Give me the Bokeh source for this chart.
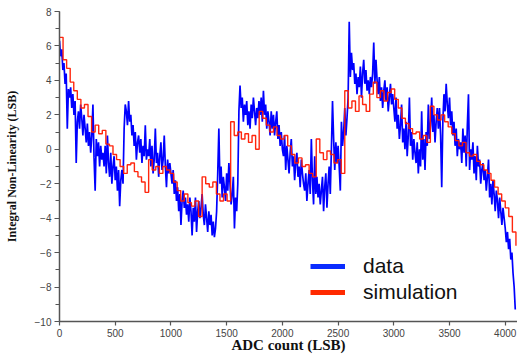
from bokeh.plotting import figure
from bokeh.models import SingleIntervalTicker, Legend, LegendItem
from bokeh.embed import file_html
from bokeh.resources import INLINE

data_inl = [
    6.3, 5.4, 5.8, 4.6, 5.0, 3.8, 4.4, 1.2, 3.5, 3.0, 3.6, 2.4, 3.2, 2.0, 2.8, -0.8, 1.6, 2.2, 1.2, 2.6,
    1.8, 0.8, 2.0, 1.2, 0.4, 1.5, 0.2, 1.0, -0.2, 0.8, 2.6, -0.5, -2.4, 0.6, -0.4, 0.4, -1.0, 0.2, -0.6, -0.2,
    -1.0, 0.2, -1.4, 0.8, -0.8, -1.6, -0.2, -2.0, -1.0, -0.4, -1.8, -1.0, -2.4, -1.2, -3.3, -1.8, -1.2, -2.0, 1.2, 2.6,
    2.2, 1.4, 2.8, 1.6, 2.0, 0.8, 1.4, 0.2, 1.0, -0.6, 0.4, 0.8, -0.2, 0.6, -0.8, 0.2, -0.4, 1.4, -0.6, 0.0,
    -0.4, 0.6, -1.0, 0.2, -1.4, -0.6, 1.2, -0.8, -0.2, -1.6, -0.4, 0.4, -1.2, -0.6, 0.8, -1.0, -2.2, -0.6, -1.4, -0.8,
    -1.4, -2.0, -1.2, -2.6, -1.8, -3.0, -2.2, -3.6, -2.6, -4.4, -3.0, -2.4, -3.4, -2.8, -3.8, -3.2, -4.2, -2.8, -3.6, -5.0,
    -3.4, -4.2, -2.8, -4.8, -3.6, -3.0, -4.0, -3.4, -2.6, -3.8, -4.4, -3.2, -4.0, -4.8, -3.6, -4.4, -3.8, -5.0, -4.2, -5.1,
    -4.6, -3.6, -1.4, 1.2, -2.0, -1.0, -2.8, -1.6, -2.2, -3.0, -1.4, -2.4, -0.8, -2.0, -3.2, -2.6, -1.6, -4.6, -2.8, -3.6,
    -2.0, 2.2, 3.7, 2.4, 3.0, 1.6, 2.6, 2.0, 2.8, 1.4, 2.2, 1.2, 2.6, 1.8, 3.0, 2.2, 1.4, 2.4, 1.8, 2.8,
    2.0, 3.0, 1.6, 3.4, 2.0, 2.6, 1.2, 2.2, 1.6, 0.8, 2.2, 1.2, 2.0, 0.8, 1.6, 2.2, 0.6, 1.4, 0.2, 1.0,
    0.0, -0.4, 0.8, -1.2, 0.2, -0.6, -1.4, -0.2, 0.6, -1.0, -0.4, -1.8, -0.8, -0.2, -1.6, -1.0, -2.2, -0.6, -1.4, -2.0,
    -2.4, -1.4, -3.0, -2.0, -1.2, -2.6, 0.6, -1.8, -3.2, -0.4, -2.6, -1.6, -2.8, -2.0, -3.2, -2.4, -1.6, -3.6, -2.2, -1.4,
    -3.4, -2.0, -1.0, -2.6, 0.0, 2.8, 0.6, -1.2, 0.4, -0.8, 0.2, -1.0, -2.4, 1.6, 0.2, 1.0, 2.4, 0.8, 1.8, 3.0,
    7.4, 4.2, 5.6, 4.6, 5.0, 3.8, 4.4, 3.2, 4.2, 3.6, 4.8, 3.0, 4.4, 5.2, 3.8, 4.6, 3.4, 4.0, 3.2, 4.2,
    3.6, 4.4, 6.2, 3.8, 5.2, 4.0, 3.2, 4.2, 2.8, 3.6, 2.4, 3.4, 4.0, 2.8, 3.6, 2.2, 3.0, 3.8, 2.6, 3.2,
    2.4, 1.6, 3.0, 1.2, 2.0, 0.6, 1.4, 2.6, 0.4, 1.2, 0.0, 1.6, -0.4, 0.8, 3.0, 0.2, 1.0, -0.6, 0.6, -0.2,
    -0.8, 0.4, -1.4, 0.0, -1.0, 2.2, -0.6, 0.6, -1.2, 1.0, 0.2, 2.6, 0.6, 1.4, 3.0, 1.0, 2.0, 0.4, 1.6, 2.4,
    1.2, 2.4, 0.8, -2.2, 1.6, 3.2, 2.2, 3.8, 2.6, 1.8, 3.0, 1.4, 2.2, 0.8, 1.6, 0.2, 1.2, -0.4, 0.6, 0.0,
    0.4, -0.8, 1.2, -0.2, 0.8, -1.0, 1.4, 3.2, -1.2, 0.0, -0.6, 0.4, -1.4, -0.4, -1.8, 0.2, -1.0, -0.6, -2.0, -1.2,
    -0.8, -1.8, -1.2, -2.4, -1.6, -0.6, -2.8, -2.0, -3.2, -1.8, -2.6, -3.6, -2.4, -3.0, -4.0, -2.8, -3.6, -4.4, -3.4, -4.0,
    -4.6, -5.4, -4.8, -5.8, -5.2, -6.4, -6.0, -7.2, -8.0, -9.3,
]
data_step = 10
data_code = [i * data_step for i in range(len(data_inl))]

# Simulated INL (red), a step every 32 ADC codes
sim_inl = [
    6.5, 5.2, 4.7, 3.9, 3.4, 2.9, 2.4, 2.6, 1.9, 1.0, 1.4, 0.9, 1.1, 0.3, 0.2, -0.3,
    -0.6, -1.0, -1.4, -0.9, -0.8, -1.3, -1.6, -1.9, -2.5, -0.6, -1.2, -1.0, -1.4, -1.0, -1.2, -1.4,
    -1.9, -2.4, -3.0, -2.6, -3.1, -3.3, -3.0, -3.9, -1.6, -2.0, -2.2, -1.9, -2.6, -3.0, -2.6, -3.0,
    1.6, 0.8, 1.0, 0.6, 0.9, 0.4, 0.8, 0.0, 2.2, 1.8, 1.4, 1.0, 1.3, 0.8, 0.6, 0.8,
    0.2, -0.3, -0.8, -0.5, -1.0, -0.9, -1.4, -1.6, 0.6, -0.2, -0.6, -0.1, -0.3, -0.8, -0.6, -1.4,
    3.4, 2.4, 2.8, 2.2, 3.1, 2.6, 2.2, 3.2, 3.9, 3.0, 3.4, 2.8, 3.3, 3.5, 2.9, 2.4,
    1.8, 1.5, 1.2, 0.9, 1.0, 0.6, 0.8, 0.4, 2.5, 2.0, 1.7, 2.0, 1.6, 1.3, 0.9, 0.5,
    0.2, 0.4, -0.2, -0.4, -0.3, -0.7, -0.9, -1.2, -1.4, -1.8, -2.2, -2.6, -3.0, -3.4, -3.9, -4.8,
    -5.6,
]
sim_step = 32
sim_code = [i * sim_step for i in range(len(sim_inl))]

x_ticks = [0, 500, 1000, 1500, 2000, 2500, 3000, 3500, 4000]
series_names = ["data", "simulation"]

p = figure(width=517, height=355, x_range=(0, 4110), y_range=(-10, 8),
           output_backend="svg", toolbar_location=None,
           min_border_left=59, min_border_right=0, min_border_top=11, min_border_bottom=32)
p.outline_line_color = None
p.xgrid.grid_line_color = None
p.ygrid.grid_line_color = None
p.background_fill_color = "white"

r_data = p.line(data_code, data_inl, line_color="#0000ff", line_width=1.7)
r_sim = p.step(sim_code, sim_inl, mode="after", line_color="#ff1a00", line_width=1.4, line_alpha=0.95)

# thick legend swatches (renderers with no visible points)
nan = float("nan")
d1 = p.line(x=[nan, nan], y=[nan, nan], line_color="#0a2cff", line_width=5)
d2 = p.line(x=[nan, nan], y=[nan, nan], line_color="#ff2a00", line_width=5)
legend = Legend(items=[LegendItem(label=series_names[0], renderers=[d1]),
                       LegendItem(label=series_names[1], renderers=[d2])],
                location=(251, 16), padding=0, margin=0, spacing=0,
                glyph_width=35, glyph_height=26, label_height=26, label_standoff=18,
                label_text_font="Liberation Sans", label_text_font_size="21px",
                label_text_color="#111111",
                border_line_color=None, background_fill_alpha=0)
p.add_layout(legend)

p.xaxis.ticker = x_ticks
p.yaxis.ticker = SingleIntervalTicker(interval=2, num_minor_ticks=2)

for ax in (p.xaxis, p.yaxis):
    ax.axis_line_color = "#555555"
    ax.axis_line_width = 1.5
    ax.major_tick_line_color = "#555555"
    ax.minor_tick_line_color = "#555555"
    ax.major_tick_line_width = 1.2
    ax.minor_tick_line_width = 1.2
    ax.major_tick_in = 0
    ax.major_tick_out = 5
    ax.minor_tick_in = 0
    ax.minor_tick_out = 4
    ax.major_label_text_font = "Liberation Sans"
    ax.major_label_text_font_size = "10px"
    ax.major_label_text_color = "#444444"
    ax.axis_label_text_font = "Liberation Serif"
    ax.axis_label_text_font_style = "bold"
    ax.axis_label_text_color = "#111111"

p.xaxis.minor_tick_line_color = None
p.xaxis.major_tick_out = 4
p.xaxis.major_label_standoff = 3
p.xaxis.axis_label_standoff = -3
p.xaxis.axis_label_text_font_size = "15px"
p.yaxis.major_label_standoff = 3
p.yaxis.axis_label_standoff = 13
p.yaxis.axis_label_text_font_size = "12px"
p.xaxis.axis_label = "ADC count (LSB)"
p.yaxis.axis_label = "Integral Non-Linearity (LSB)"

open("out.html", "w").write(file_html(p, INLINE))
